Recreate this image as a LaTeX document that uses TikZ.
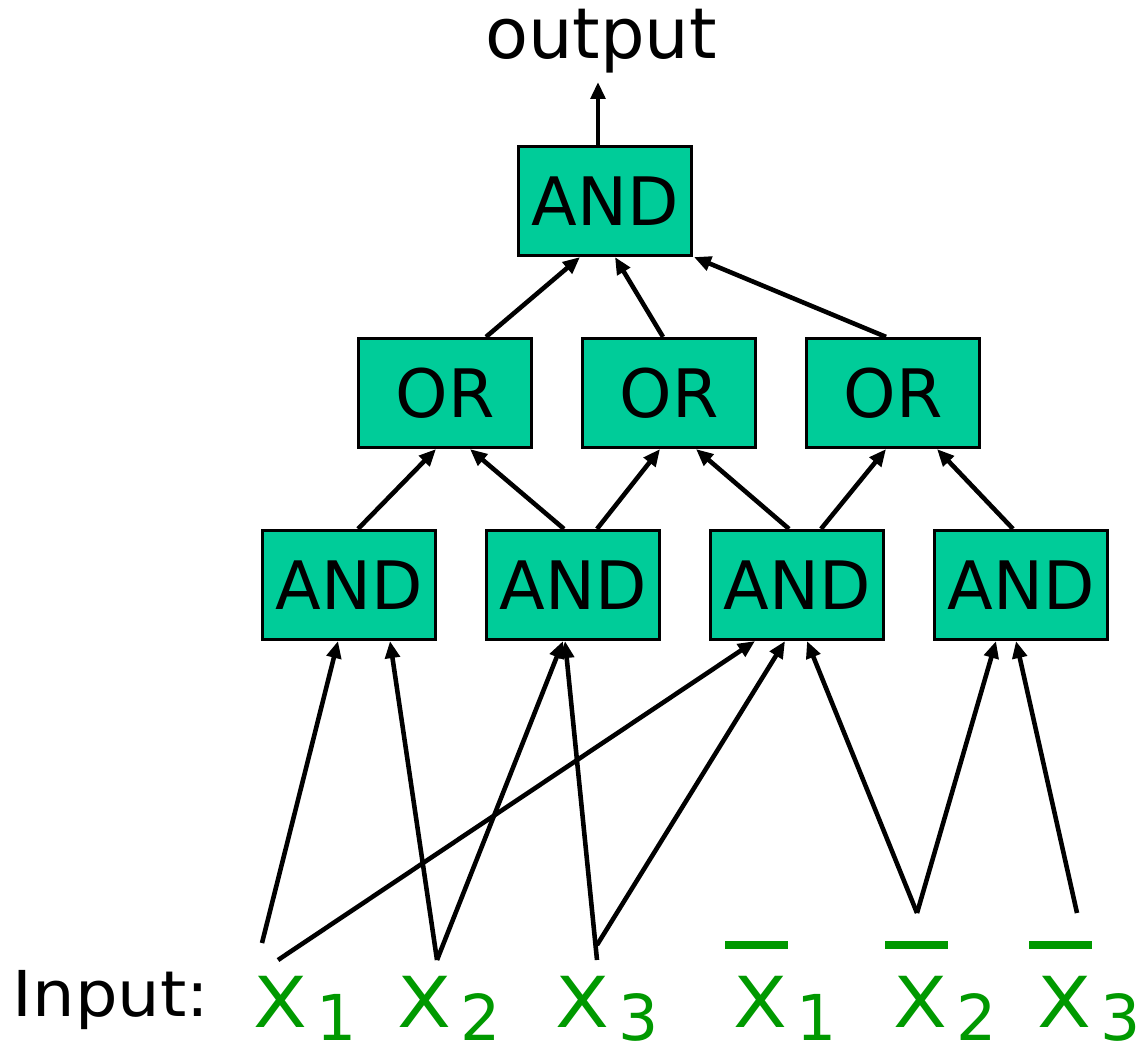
\documentclass[tikz,border=0pt]{standalone}
\usepackage{fontspec}
\setmainfont{DejaVu Sans}
\usetikzlibrary{arrows.meta}
\definecolor{gatefill}{HTML}{00CC99}
\definecolor{vargreen}{HTML}{009900}

\tikzset{
  gate/.style={draw=black,line width=.9pt,fill=gatefill,inner sep=0pt,
    minimum width=1.73cm,minimum height=1.09cm,
    font=\fontsize{19}{22}\selectfont},
  wire/.style={line width=1.3pt,-{Triangle[length=1.7mm,width=1.45mm]}},
  var/.style={vargreen,inner sep=0pt,anchor=base west,
    font=\fontsize{20}{24}\selectfont},
  negbar/.style={vargreen,line width=2pt},
}
% input variable: letter with a lowered index
\newcommand{\invar}[1]{\scalebox{1.12}[1]{X}\kern.09cm%
  \raisebox{-.13cm}{\fontsize{18}{20}\selectfont #1}}

\begin{document}
\begin{tikzpicture}[line cap=butt]
  \useasboundingbox (0,0) rectangle (11.38,-10.49);

  % output
  \node[inner sep=0pt,anchor=base,font=\fontsize{20}{24}\selectfont]
    (out) at (6.01,-0.59) {output};
  \coordinate (outtip) at (5.98,-0.82);

  % gates
  \node[gate] (top) at (6.05,-2.01) {AND};
  \node[gate] (or1) at (4.45,-3.93) {OR};
  \node[gate] (or2) at (6.69,-3.93) {OR};
  \node[gate] (or3) at (8.93,-3.93) {OR};
  \node[gate] (and1) at (3.49,-5.85) {AND};
  \node[gate] (and2) at (5.73,-5.85) {AND};
  \node[gate] (and3) at (7.97,-5.85) {AND};
  \node[gate] (and4) at (10.21,-5.85) {AND};

  % inputs
  \node[inner sep=0pt,anchor=base west,font=\fontsize{18}{22}\selectfont]
    (inlbl) at (0.12,-10.16) {\scalebox{1.06}[1]{Input:}};
  \node[var] (x1) at (2.53,-10.27) {\invar{1}};
  \node[var] (x2) at (3.97,-10.27) {\invar{2}};
  \node[var] (x3) at (5.55,-10.27) {\invar{3}};
  \node[var] (nx1) at (7.33,-10.27) {\invar{1}};
  \node[var] (nx2) at (8.93,-10.27) {\invar{2}};
  \node[var] (nx3) at (10.37,-10.27) {\invar{3}};
  \foreach \v in {nx1,nx2,nx3}
    \draw[negbar] ([shift={(-.08,.82)}]\v.base west) -- ++(.63,0);

  % free ends of the input wires
  \coordinate (x1a) at (2.62,-9.43);
  \coordinate (x1b) at (2.78,-9.60);
  \coordinate (x2a) at (4.37,-9.60);
  \coordinate (x3a) at (5.97,-9.60);
  \coordinate (x3b) at (5.97,-9.45);
  \coordinate (nx2a) at (9.17,-9.13);
  \coordinate (nx3a) at (10.77,-9.13);

  % wires
  \draw[wire] (top.north -| outtip) -- (outtip);
  \foreach \from/\fx/\to/\tx in {or1/.41/top/-.25,or2/-.06/top/.10,
      or3/-.07/top/.89,and1/.09/or1/-.09,and2/-.09/or1/.25,
      and2/.24/or2/-.09,and3/-.08/or2/.27,and3/.24/or3/-.07,
      and4/-.08/or3/.44}
    \draw[wire] ([xshift=\fx cm]\from.north) -- ([xshift=\tx cm]\to.south);
  \foreach \from/\to/\dx in {x1a/and1/-.11,x1b/and3/-.42,x2a/and1/.41,
      x2a/and2/-.10,x3a/and2/-.08,x3b/and3/-.12,nx2a/and3/.10,
      nx2a/and4/-.25,nx3a/and4/-.05}
    \draw[wire] (\from) -- ([xshift=\dx cm]\to.south);
\end{tikzpicture}
\end{document}
